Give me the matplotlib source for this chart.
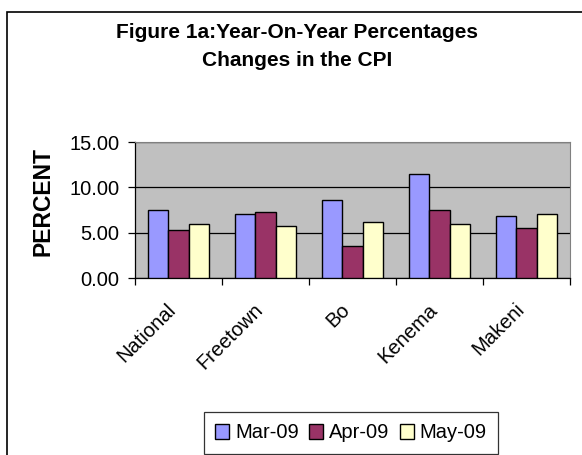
import matplotlib
matplotlib.use("Agg")
import matplotlib.pyplot as plt
import matplotlib.transforms as mtransforms
import numpy as np
from matplotlib.patches import Rectangle

plt.rcParams['font.family'] = ['Liberation Sans', 'DejaVu Sans']

categories = ["National", "Freetown", "Bo", "Kenema", "Makeni"]
series_names = ["Mar-09", "Apr-09", "May-09"]
mar09 = [7.50, 7.06, 8.56, 11.47, 6.84]
apr09 = [5.29, 7.28, 3.53, 7.50, 5.47]
may09 = [5.92, 5.70, 6.17, 5.92, 7.02]
colors = ["#9999FF", "#993366", "#FFFFCC"]
yticks = [0, 5, 10, 15]

fig = plt.figure(figsize=(5.82, 4.55), dpi=100)
W, H = 582, 455
# outer frame (right and bottom clipped)
fig.patches.append(Rectangle((7 / W, -0.1), 1.2, 1 - 12 / H + 0.1,
                             transform=fig.transFigure, fill=False,
                             edgecolor='black', linewidth=1.2))

ax = fig.add_axes([135 / W, 1 - 278 / H, (570 - 135) / W, (278 - 142) / H])
ax.set_facecolor('#C0C0C0')

x = np.arange(len(categories))
bw = 0.23
for i, (vals, name, c) in enumerate(zip([mar09, apr09, may09], series_names, colors)):
    ax.bar(x + (i - 1) * bw, vals, width=bw, color=c, edgecolor='black',
           linewidth=1.0, label=name, zorder=3)

ax.set_xlim(-0.5, len(categories) - 0.5)
ax.set_ylim(0, 15)
ax.set_yticks(yticks)
ax.set_yticklabels([f"{v:.2f}" for v in yticks], fontsize=14.5)
ax.yaxis.grid(True, color='black', linewidth=0.9, zorder=1)
ax.set_axisbelow(True)

ax.set_xticks(np.arange(-0.5, len(categories), 1.0))
ax.set_xticklabels([])
ax.set_xticks(x, minor=True)
ax.set_xticklabels(categories, minor=True, rotation=45, ha='right',
                   va='top', rotation_mode='anchor', fontsize=14.5)
ax.tick_params(axis='x', which='minor', length=0, pad=10)
ax.tick_params(axis='x', which='major', length=5, direction='out', width=0.9)
ax.tick_params(axis='y', length=5, direction='out', width=0.9, pad=6)
offset = mtransforms.ScaledTranslation(-12 / 100, -8 / 100, fig.dpi_scale_trans)
for lbl in ax.get_xticklabels(minor=True):
    lbl.set_transform(lbl.get_transform() + offset)

for s in ['top', 'right']:
    ax.spines[s].set_color('#808080')
for s in ['left', 'bottom']:
    ax.spines[s].set_color('black')
    ax.spines[s].set_linewidth(0.9)

fig.text(43 / W, 1 - 201 / H, "PERCENT", rotation=90, ha='center', va='center',
         fontsize=16.5, fontweight='bold')

fig.text(297 / W, 1 - 32 / H, "Figure 1a:Year-On-Year Percentages",
         ha='center', va='center', fontsize=15, fontweight='bold')
fig.text(297 / W, 1 - 60 / H, "Changes in the CPI",
         ha='center', va='center', fontsize=15, fontweight='bold')

leg = fig.legend(loc='center', bbox_to_anchor=(351 / W, 1 - 433 / H), ncol=3,
                 fontsize=14.5, frameon=True, fancybox=False, edgecolor='black',
                 handlelength=0.7, handleheight=0.7, handletextpad=0.3,
                 columnspacing=0.5, borderpad=0.55)
leg.get_frame().set_linewidth(0.9)

fig.savefig("out.png", dpi=100)
